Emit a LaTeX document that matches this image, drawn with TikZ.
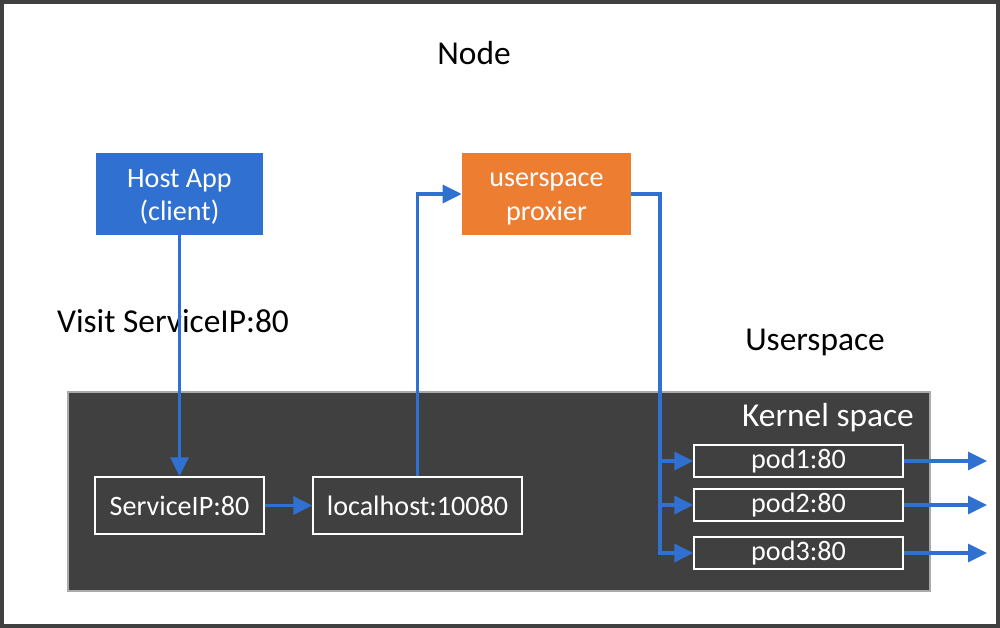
\documentclass[tikz,border=0pt]{standalone}
\usepackage{fontspec}
\setmainfont{Carlito}
\usepackage{tikz}
\usetikzlibrary{arrows.meta}

\definecolor{hostblue}{RGB}{48,112,208}
\definecolor{proxyorange}{RGB}{237,125,49}
\definecolor{kerneldark}{RGB}{64,64,64}
\definecolor{kernelrim}{RGB}{170,170,170}

\begin{document}
\begin{tikzpicture}[x=0.02cm,y=-0.02cm,
		flow/.style={draw=hostblue,line width=1.9pt,-{Triangle[length=0.38cm,width=0.36cm]}},
		solid box/.style={text=white,align=center,font=\fontsize{16}{19}\selectfont,inner sep=0pt,minimum height=1.64cm},
		kernel box/.style={draw=white,line width=0.8pt,text=white,font=\fontsize{16}{19}\selectfont,inner sep=0pt},
		big label/.style={font=\fontsize{19}{23}\selectfont}]
		\useasboundingbox (0,0) rectangle (1000,628);
		\draw[kerneldark,line width=1.8pt] (2,2) rectangle (998,626);
		\node[big label] (nodetitle) at (474,53) {Node};
		
		% user space
		\node[solid box,fill=hostblue,minimum width=3.34cm] (host) at (179.5,194) {\strut Host App\\(client)};
		\node[solid box,fill=proxyorange,minimum width=3.38cm] (proxy) at (546.5,194) {\strut userspace\\proxier};
		\node[big label] (visit) at (173,321) {Visit ServiceIP:80};
		\node[big label] (userspace) at (815,342) {Userspace};
		
		% kernel space
		\draw[fill=kerneldark,draw=kernelrim,line width=0.6pt] (68,392) rectangle (930,591);
		\node[big label,text=white,anchor=east] (kernel) at (920,418) {Kernel space};
		\node[kernel box,minimum width=3.38cm,minimum height=1.14cm] (svc) at (179.5,505.5) {ServiceIP:80};
		\node[kernel box,minimum width=4.18cm,minimum height=1.14cm] (local) at (417.5,505.5) {localhost:10080};
		\foreach \i/\y in {1/461,2/505,3/553}{
			\node[kernel box,minimum width=4.18cm,minimum height=0.64cm] (pod\i) at (798.5,\y) {pod\i:80};
			\coordinate (out\i) at (987,\y);
		}
		\coordinate (split) at (660,194);
		
		\draw[flow] (host.south) -- (svc.north);
		\draw[flow] (svc.east) -- (local.west);
		\draw[flow] (local.north) |- (proxy.west);
		\draw[flow] (proxy.east) -- (split) -- (split |- pod3.west) -- (pod3.west);
		\draw[flow] (split |- pod1.west) -- (pod1.west);
		\draw[flow] (split |- pod2.west) -- (pod2.west);
		\foreach \i in {1,2,3}
			\draw[flow] (pod\i.east) -- (out\i);
	\end{tikzpicture}
\end{document}
